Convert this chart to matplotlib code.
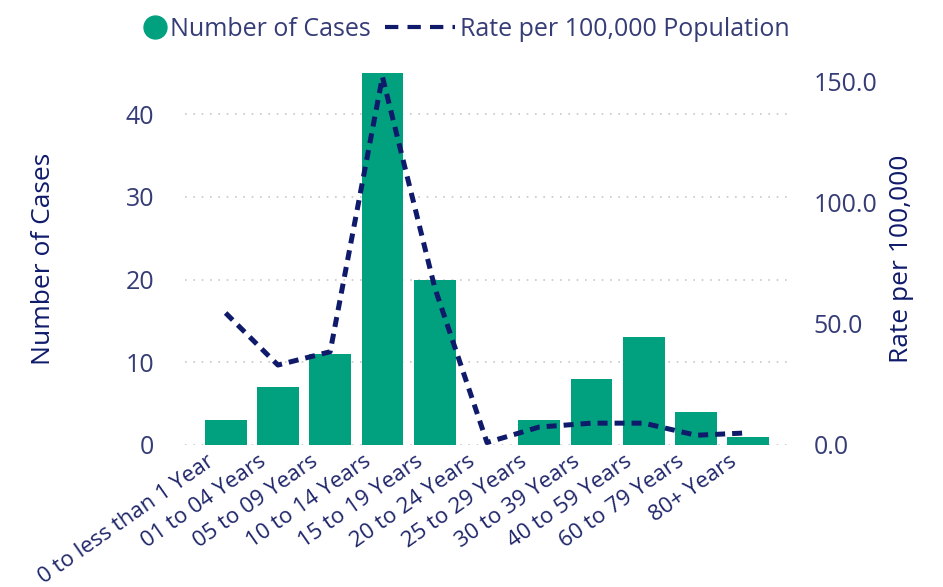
import matplotlib.pyplot as plt
import matplotlib.transforms as mtransforms
from matplotlib.lines import Line2D

# age groups and values
age_groups = ['0 to less than 1 Year', '01 to 04 Years', '05 to 09 Years', '10 to 14 Years',
              '15 to 19 Years', '20 to 24 Years', '25 to 29 Years', '30 to 39 Years',
              '40 to 59 Years', '60 to 79 Years', '80+ Years']
cases = [3, 7, 11, 45, 20, 0, 3, 8, 13, 4, 1]
rate = [54.5, 33, 38.5, 152, 65, 1, 7.4, 9, 9, 4, 5]

teal = '#01A07F'
navy = '#0F1A6B'
txt = '#353C76'

plt.rcParams['font.family'] = ['Open Sans', 'DejaVu Sans']

fig = plt.figure(figsize=(9.43, 5.87), dpi=100)
ax = fig.add_axes([0.196, 0.242, 0.642, 0.634])
x = list(range(len(age_groups)))
ax.bar(x, cases, width=0.8, color=teal, zorder=2)
ax.set_ylim(0, 45)
ax.set_xlim(-0.78, 10.8)
ax.set_yticks([0, 10, 20, 30, 40])
ax.grid(axis='y', linestyle=(0, (1, 4)), color='#c8c8c8', linewidth=1.2, zorder=0)
ax.set_xticks(x)
ax.set_xticklabels([])
# rotated category labels, pulled a bit left of the tick like the original
shift = mtransforms.ScaledTranslation(-20 / 100, -6 / 100, fig.dpi_scale_trans)
for i, lab in enumerate(age_groups):
    ax.text(i, 0, lab, transform=ax.get_xaxis_transform() + shift, rotation=35,
            ha='right', va='top', rotation_mode='anchor', fontsize=16, color='#1E2569')
ax.tick_params(axis='y', labelsize=18, labelcolor=txt, length=0, pad=22)
ax.tick_params(axis='x', length=0)
ax.set_ylabel('Number of Cases', fontsize=19, color=navy, labelpad=50)
for s in ax.spines.values():
    s.set_visible(False)

ax2 = ax.twinx()
ax2.plot(x, rate, color=navy, linewidth=3.6, linestyle=(0, (2, 1.4)), zorder=3)
ax2.set_ylim(0, 153.7)
ax2.set_yticks([0, 50, 100, 150])
ax2.set_yticklabels(['0.0', '50.0', '100.0', '150.0'])
ax2.tick_params(axis='y', labelsize=18, labelcolor=txt, length=0, pad=17)
ax2.set_ylabel('Rate per 100,000', fontsize=19, color=navy, labelpad=8)
for s in ax2.spines.values():
    s.set_visible(False)

# legend in two parts so the dot sits close to its text
h1 = Line2D([], [], marker='o', linestyle='none', color=teal, markersize=16.5)
h2 = Line2D([], [], color=navy, linewidth=3, linestyle=(0, (3.2, 2.2)))
fig.legend([h1], ['Number of Cases'], loc='upper left', bbox_to_anchor=(0.1275, 1.01),
           frameon=False, fontsize=18, labelcolor=txt, handlelength=1.0,
           handletextpad=0.1)
fig.legend([h2], ['Rate per 100,000 Population'], loc='upper left', bbox_to_anchor=(0.384, 1.01),
           frameon=False, fontsize=18, labelcolor=txt, handlelength=2.8, handletextpad=0.2)

fig.savefig('out.png', dpi=100)
